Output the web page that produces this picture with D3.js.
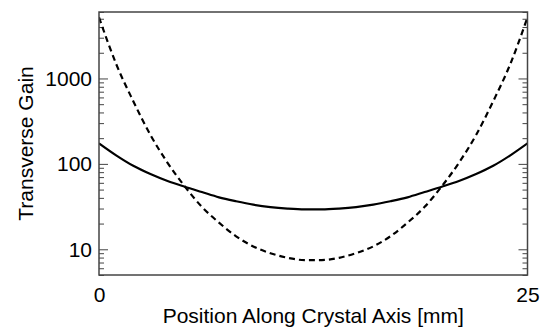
<!DOCTYPE html>
<html>
<head>
<meta charset="utf-8">
<script src="https://cdn.jsdelivr.net/npm/d3@7"></script>
<style>
  body { margin: 0; background: #fff; }
  svg { display: block; font-family: "Liberation Sans", Arial, sans-serif; }
</style>
</head>
<body>
<svg id="chart" width="540" height="328"></svg>
<script>
// position along the crystal axis, mm
const positions = [0, 1, 2, 3, 4, 5, 6, 7, 8, 9, 10, 11, 12, 13, 14, 15, 16, 17, 18, 19, 20, 21, 22, 23, 24, 25];
// solid curve
const gainSolid = [174, 126, 95, 76, 63, 54, 46.8, 40.6, 36.5, 33.3, 31.2, 30.0, 29.4,
                   29.4, 30.0, 31.2, 33.3, 36.5, 40.6, 46.8, 54, 63, 76, 95, 126, 174];
// dashed curve
const gainDashed = [5200, 1480, 542, 218, 103, 54.6, 31.4, 20.5, 14.2, 10.8, 9.0, 7.95, 7.48,
                    7.48, 7.95, 9.0, 10.8, 14.2, 20.5, 31.4, 54.6, 103, 218, 542, 1480, 5200];
const xTickLabels = [0, 25];
const yMajorTicks = [10, 100, 1000];

const svg = d3.select("#chart");
const plotLeft = 99, plotRight = 527.5, plotTop = 12, plotBottom = 275;

const x = d3.scaleLinear().domain([0, 25]).range([plotLeft, plotRight]);
const y = d3.scaleLog().domain([5, 6000]).range([plotBottom, plotTop]);

const axisColor = "#444";
const fontSize = 21;

// minor ticks: every value d3 gives back that is not a decade
const yMinorTicks = y.ticks().filter(v => !yMajorTicks.includes(v));

// left axis ticks (pointing inward)
svg.append("g")
    .attr("transform", `translate(${plotLeft},0)`)
    .call(d3.axisRight(y).tickValues(yMinorTicks).tickSize(5).tickFormat(""))
    .call(g => g.select(".domain").remove())
    .selectAll("line").attr("stroke", axisColor);

svg.append("g")
    .attr("transform", `translate(${plotLeft},0)`)
    .call(d3.axisRight(y).tickValues(yMajorTicks).tickSize(9).tickFormat(""))
    .call(g => g.select(".domain").remove())
    .selectAll("line").attr("stroke", axisColor);

// right axis ticks (pointing inward)
svg.append("g")
    .attr("transform", `translate(${plotRight},0)`)
    .call(d3.axisLeft(y).tickValues(yMinorTicks).tickSize(5).tickFormat(""))
    .call(g => g.select(".domain").remove())
    .selectAll("line").attr("stroke", axisColor);

svg.append("g")
    .attr("transform", `translate(${plotRight},0)`)
    .call(d3.axisLeft(y).tickValues(yMajorTicks).tickSize(9).tickFormat(""))
    .call(g => g.select(".domain").remove())
    .selectAll("line").attr("stroke", axisColor);

// y tick labels
const yLabels = svg.append("g")
    .attr("transform", `translate(${plotLeft},0)`)
    .call(d3.axisLeft(y).tickValues(yMajorTicks).tickSize(0).tickPadding(7).tickFormat(d3.format("d")));
yLabels.select(".domain").remove();
yLabels.selectAll("text")
    .attr("font-size", fontSize)
    .attr("font-family", "Liberation Sans, Arial, sans-serif")
    .attr("fill", "#000");

// x tick labels
const xLabels = svg.append("g")
    .attr("transform", `translate(0,${plotBottom})`)
    .call(d3.axisBottom(x).tickValues(xTickLabels).tickSize(0).tickPadding(12).tickFormat(d3.format("d")));
xLabels.select(".domain").remove();
xLabels.selectAll("text")
    .attr("font-size", fontSize)
    .attr("font-family", "Liberation Sans, Arial, sans-serif")
    .attr("fill", "#000");

// clip to the plot box
svg.append("clipPath").attr("id", "plot-clip")
  .append("rect")
    .attr("x", plotLeft).attr("y", plotTop)
    .attr("width", plotRight - plotLeft).attr("height", plotBottom - plotTop);

const line = d3.line()
    .x((d, i) => x(positions[i]))
    .y(d => y(d))
    .curve(d3.curveMonotoneX);

svg.append("path")
    .datum(gainSolid)
    .attr("clip-path", "url(#plot-clip)")
    .attr("fill", "none")
    .attr("stroke", "#000")
    .attr("stroke-width", 2.2)
    .attr("d", line);

svg.append("path")
    .datum(gainDashed)
    .attr("clip-path", "url(#plot-clip)")
    .attr("fill", "none")
    .attr("stroke", "#000")
    .attr("stroke-width", 2.2)
    .attr("stroke-dasharray", "6,4")
    .attr("d", line);

// plot frame
svg.append("rect")
    .attr("x", plotLeft).attr("y", plotTop)
    .attr("width", plotRight - plotLeft).attr("height", plotBottom - plotTop)
    .attr("fill", "none")
    .attr("stroke", axisColor)
    .attr("stroke-width", 1.5);

// axis titles
svg.append("text")
    .attr("x", (plotLeft + plotRight) / 2)
    .attr("y", 323)
    .attr("text-anchor", "middle")
    .attr("font-size", fontSize)
    .text("Position Along Crystal Axis [mm]");

svg.append("text")
    .attr("transform", `translate(33,${(plotTop + plotBottom) / 2}) rotate(-90)`)
    .attr("text-anchor", "middle")
    .attr("font-size", fontSize)
    .text("Transverse Gain");
</script>
</body>
</html>
